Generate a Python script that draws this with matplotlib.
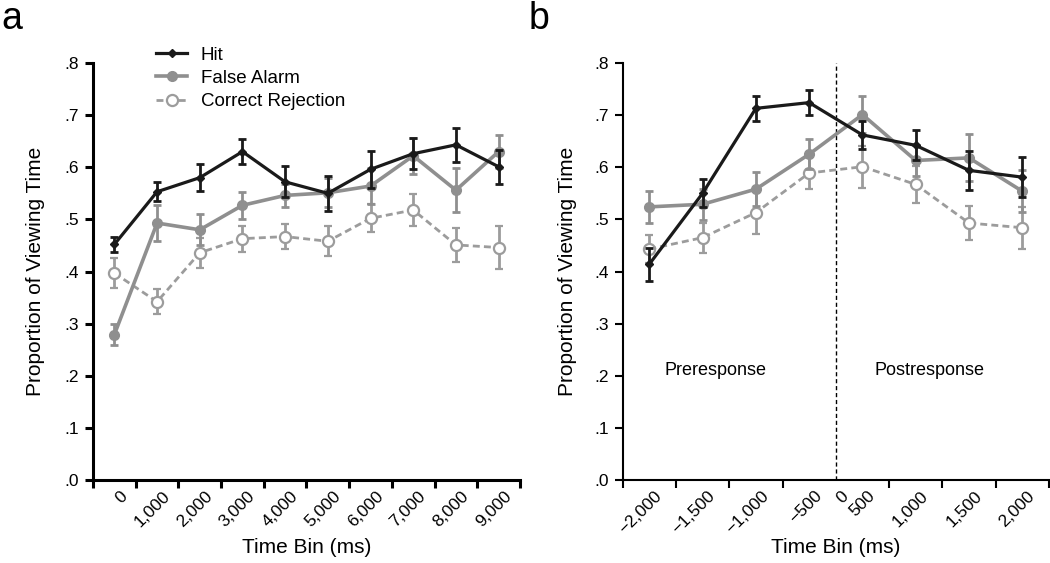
import matplotlib
matplotlib.use("Agg")
import matplotlib.pyplot as plt
import matplotlib.transforms as mtransforms
from matplotlib.lines import Line2D
import numpy as np

plt.rcParams['font.family'] = ['Liberation Sans', 'DejaVu Sans']

# panel a: time bins after onset
labelsA = ['0', '1,000', '2,000', '3,000', '4,000', '5,000', '6,000', '7,000', '8,000', '9,000']
hitA = [0.452, 0.553, 0.580, 0.630, 0.572, 0.550, 0.596, 0.626, 0.643, 0.601]
hitAErr = [0.015, 0.018, 0.026, 0.024, 0.030, 0.034, 0.035, 0.030, 0.032, 0.033]
faA = [0.279, 0.493, 0.480, 0.527, 0.546, 0.551, 0.564, 0.622, 0.556, 0.630]
faAErr = [0.020, 0.034, 0.030, 0.026, 0.022, 0.028, 0.035, 0.035, 0.042, 0.032]
crA = [0.397, 0.342, 0.436, 0.463, 0.467, 0.458, 0.502, 0.518, 0.451, 0.446]
crAErr = [0.029, 0.024, 0.029, 0.025, 0.024, 0.029, 0.027, 0.030, 0.032, 0.042]

# panel b: time bins around response
labelsB = ['\u22122,000', '\u22121,500', '\u22121,000', '\u2212500', '0', '500', '1,000', '1,500', '2,000']
hitB = [0.414, 0.550, 0.713, 0.724, 0.662, 0.642, 0.594, 0.581]
hitBErr = [0.032, 0.027, 0.024, 0.024, 0.027, 0.029, 0.037, 0.038]
faB = [0.524, 0.529, 0.558, 0.625, 0.701, 0.613, 0.618, 0.554]
faBErr = [0.031, 0.030, 0.032, 0.029, 0.035, 0.030, 0.045, 0.040]
crB = [0.443, 0.465, 0.513, 0.589, 0.601, 0.567, 0.493, 0.484]
crBErr = [0.027, 0.029, 0.041, 0.030, 0.040, 0.036, 0.033, 0.040]

black = '#1a1a1a'
gray = '#8f8f8f'
lgray = '#9c9c9c'

fig = plt.figure(figsize=(10.5, 5.63), dpi=100)
axA = fig.add_axes([0.0886, 0.1474, 0.4066, 0.7407])
axB = fig.add_axes([0.593, 0.1474, 0.406, 0.7407])

crStyle = dict(color=lgray, ls=(0, (2.5, 1.5)), lw=2.0, marker='o', ms=8,
               mfc='white', mec=lgray, mew=1.6)
faStyle = dict(color=gray, lw=2.6, marker='o', ms=7, mfc=gray, mec=gray)
hitStyle = dict(color=black, lw=2.3, marker='D', ms=4, mfc=black, mec=black)


def drawSeries(ax, x, hit, hitErr, fa, faErr, cr, crErr):
    ax.errorbar(x, cr, yerr=crErr, ecolor=lgray, elinewidth=2.0,
                capsize=3, capthick=2.0, zorder=2, **crStyle)
    ax.errorbar(x, fa, yerr=faErr, ecolor=gray, elinewidth=2.0,
                capsize=3, capthick=2.0, zorder=3, **faStyle)
    ax.errorbar(x, hit, yerr=hitErr, ecolor=black, elinewidth=2.0,
                capsize=3, capthick=2.0, zorder=4, **hitStyle)


def styleAxis(ax, n, labelPos, labels, spineW, ylabX):
    ax.set_ylim(0, 0.8)
    ax.set_xlim(-0.5, n - 0.5)
    ax.set_yticks(np.arange(0, 0.81, 0.1))
    ax.set_yticklabels(['.0', '.1', '.2', '.3', '.4', '.5', '.6', '.7', '.8'])
    ax.set_xticks(labelPos)
    ax.set_xticklabels(labels, rotation=45, ha='right', rotation_mode='anchor')
    ax.set_xticks(np.arange(-0.5, n, 1.0), minor=True)
    ax.tick_params(axis='x', which='major', length=0, pad=6, labelsize=12.5)
    ax.tick_params(axis='x', which='minor', length=6, width=spineW, direction='out')
    ax.tick_params(axis='y', length=6, width=spineW, labelsize=12.5, pad=4)
    for s in ['top', 'right']:
        ax.spines[s].set_visible(False)
    for s in ['left', 'bottom']:
        ax.spines[s].set_linewidth(spineW)
    offset = mtransforms.ScaledTranslation(5 / 100, 0, fig.dpi_scale_trans)
    for lbl in ax.get_xticklabels():
        lbl.set_transform(lbl.get_transform() + offset)
    ax.set_xlabel('Time Bin (ms)', fontsize=15)
    ax.xaxis.set_label_coords(0.5, -0.138)
    ax.set_ylabel('Proportion of Viewing Time', fontsize=15)
    ax.yaxis.set_label_coords(ylabX, 0.5)


xA = np.arange(len(hitA))
drawSeries(axA, xA, hitA, hitAErr, faA, faAErr, crA, crAErr)
styleAxis(axA, len(hitA), xA, labelsA, 2.2, -0.112)

xB = np.arange(len(hitB))
drawSeries(axB, xB, hitB, hitBErr, faB, faBErr, crB, crBErr)
posB = [0, 1, 2, 3, 3.5, 4, 5, 6, 7]
styleAxis(axB, len(hitB), posB, labelsB, 1.5, -0.107)
axB.axvline(3.5, color='black', ls=(0, (3, 2)), lw=1.0, zorder=1)
axB.text(1.25, 0.21, 'Preresponse', ha='center', va='center', fontsize=13)
axB.text(5.25, 0.21, 'Postresponse', ha='center', va='center', fontsize=13)

handles = [Line2D([], [], **hitStyle), Line2D([], [], **faStyle), Line2D([], [], **crStyle)]
axA.legend(handles, ['Hit', 'False Alarm', 'Correct Rejection'], loc='upper left',
           bbox_to_anchor=(0.129, 1.057), frameon=False, fontsize=13.5,
           handlelength=1.7, labelspacing=0.32, handletextpad=0.7, borderaxespad=0)

fig.text(0.001, 0.998, 'a', fontsize=27, va='top', ha='left')
fig.text(0.503, 0.998, 'b', fontsize=27, va='top', ha='left')

fig.savefig('out.png', dpi=100)
